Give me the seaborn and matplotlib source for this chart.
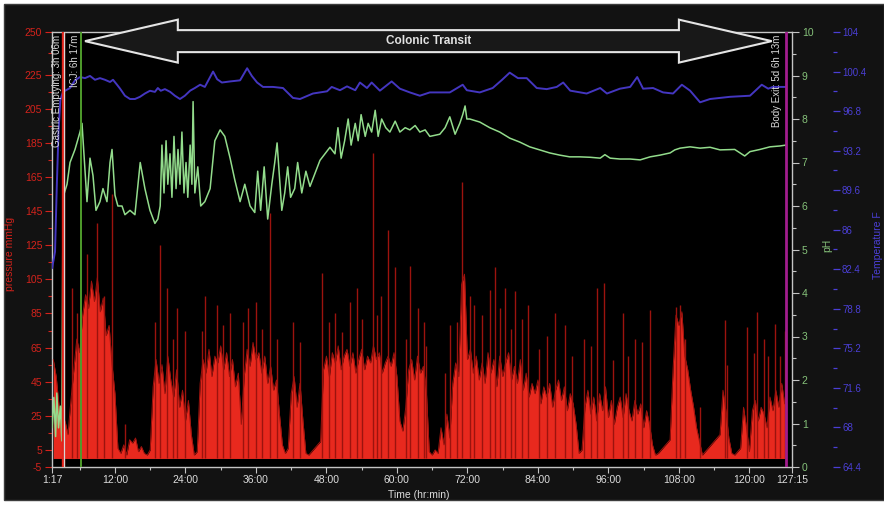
import numpy as np
import pandas as pd
import matplotlib
matplotlib.use("Agg")
import matplotlib.pyplot as plt
from matplotlib.patches import Polygon, Rectangle
import seaborn as sns

# ---------------------------------------------------------------- data
# Contraction pressure (mmHg), sampled every half hour starting at 1.5 h
pressure_start_h = 1.5
pressure_step_h = 0.5
pressure_mmhg = [
    58, 48, 30, 12, 22, 14, 34, 52, 70, 62,
    84, 96, 88, 104, 92, 106, 86, 94, 72, 78,
    55, 38, 6, 3, 8, 2, 11, 9, 12, 4,
    7, 3, 2, 5, 42, 58, 44, 55, 38, 60,
    46, 36, 52, 30, 40, 22, 34, 14, 2, 4,
    44, 58, 50, 64, 48, 60, 56, 66, 52, 62,
    48, 58, 42, 50, 20, 48, 64, 54, 68, 58,
    62, 50, 60, 44, 54, 40, 46, 26, 8, 3,
    6, 38, 48, 30, 44, 22, 3, 2, 4, 6,
    8, 10, 52, 60, 48, 62, 56, 66, 52, 60,
    64, 54, 62, 50, 58, 64, 52, 60, 56, 66,
    58, 62, 50, 56, 60, 54, 62, 48, 22, 16,
    30, 52, 58, 46, 60, 50, 54, 40, 4, 2,
    5, 3, 18, 8, 26, 12, 44, 56, 48, 102,
    108, 58, 64, 50, 60, 46, 56, 44, 62, 50,
    58, 42, 60, 48, 56, 62, 46, 54, 44, 58,
    40, 50, 36, 44, 38, 46, 32, 42, 36, 44,
    30, 40, 46, 34, 42, 28, 38, 32, 20, 3,
    5, 30, 40, 26, 36, 22, 38, 28, 42, 24,
    34, 20, 30, 36, 24, 38, 28, 22, 34, 26,
    32, 18, 28, 20, 8, 2, 3, 5, 7, 9,
    11, 52, 84, 78, 86, 60, 52, 40, 30, 18,
    10, 2, 4, 6, 8, 10, 12, 14, 40, 28,
    12, 3, 2, 4, 6, 30, 18, 4, 28, 34,
    22, 30, 26, 18, 36, 28, 40, 30, 44, 32,
]

# Individual high-amplitude contractions
spike_hours = [4.7, 5.6, 7.3, 8.95, 10.2, 11.5, 13.7, 18.9, 19.7, 20.9,
               21.8, 22.6, 23.9, 26.9, 27.3, 29.3, 30.4, 31.6, 33.8, 34.6,
               36.0, 37.0, 38.4, 39.6, 42.3, 43.5, 47.2, 48.5, 49.4, 50.6,
               52.0, 53.2, 54.0, 55.9, 56.6, 57.3, 58.5, 59.7, 61.6, 62.2,
               63.6, 64.6, 65.0, 68.1, 69.0, 70.2, 71.1, 72.4, 73.1, 74.4,
               75.8, 76.7, 77.6, 78.4, 79.4, 80.1, 81.3, 82.3, 84.2, 85.6,
               86.9, 88.6, 89.8, 91.8, 93.1, 94.0, 95.2, 96.8, 98.5, 99.4,
               100.5, 101.8, 103.1, 107.5, 108.2, 109.0, 111.6, 115.8, 116.2, 119.6,
               120.7, 121.3, 122.5, 123.2, 124.3, 125.2, 126.0]
spike_mmhg = [100, 85, 120, 138, 95, 155, 20, 80, 125, 100,
              70, 88, 75, 75, 95, 90, 78, 85, 80, 88,
              92, 76, 144, 70, 80, 68, 109, 80, 85, 74,
              92, 100, 82, 179, 84, 95, 134, 112, 70, 113,
              88, 80, 66, 50, 78, 80, 162, 95, 90, 84,
              99, 112, 88, 100, 76, 98, 82, 90, 64, 72,
              85, 78, 60, 70, 66, 100, 103, 58, 85, 60,
              70, 68, 87, 89, 90, 70, 30, 81, 55, 77,
              62, 86, 70, 60, 79, 60, 75]

# pH
ph_hours = [1.3, 1.6, 1.9, 2.1, 2.4, 2.7, 2.95,
            3.16, 3.84, 4.35, 5.2, 6.05, 6.39, 6.9, 7.24, 7.75, 8.26,
            8.77, 9.45, 9.96, 10.64, 11.16, 11.5, 12.0, 12.5, 13.2, 13.7,
            14.56, 15.4, 16.3, 17.1, 17.96, 18.8, 19.3,
            19.7, 20.0, 20.35, 20.7, 21.0, 21.37, 21.7, 22.05, 22.4, 22.73,
            23.07, 23.4, 23.75, 24.1, 24.4, 24.8, 25.1, 25.3, 25.6, 26.1,
            26.6, 27.3, 28.2, 29.0, 29.9, 30.7, 31.6, 32.4, 33.3, 34.1,
            35.0, 35.8, 36.3, 36.8, 37.4, 38.0, 38.7, 39.2, 39.6, 40.1,
            40.4, 40.9, 41.4, 41.9, 42.6, 43.1, 43.8, 44.5, 45.2, 46.9,
            48.6, 49.45, 49.96, 50.5, 51.1, 51.7, 52.2, 52.9, 53.4, 53.9,
            54.6, 55.1, 55.7, 56.3, 56.8, 57.4, 58.1, 58.8, 59.7, 60.5,
            61.4, 62.2, 63.1, 63.9, 64.8, 65.6, 67.3, 68.2, 69.0, 69.9,
            70.7, 71.2, 71.6, 71.9, 72.4, 74.1, 75.8, 77.5, 79.2, 80.9,
            82.6, 84.3, 86.0, 87.7, 89.4, 91.1, 92.9, 94.6, 95.4, 96.3,
            97.96, 99.7, 101.4, 103.1, 104.8, 106.5, 107.3, 108.2, 109.9, 111.6,
            113.3, 115.0, 117.5, 119.2, 120.1, 121.8, 123.5, 125.2, 126.2]
ph_values = [0.9, 1.6, 0.7, 1.7, 0.9, 1.4, 0.6,
             6.2, 6.5, 7.0, 7.3, 7.7, 7.9, 6.8, 6.1, 7.1, 6.7,
             5.9, 6.1, 6.4, 6.1, 7.0, 7.3, 6.25, 6.0, 6.0, 5.8,
             5.9, 5.8, 7.0, 6.4, 5.9, 5.6, 5.7,
             6.0, 7.4, 6.3, 7.5, 6.5, 7.2, 6.2, 7.6, 6.4, 7.3,
             6.5, 7.7, 6.3, 7.0, 6.2, 7.4, 6.5, 8.4, 6.3, 6.9,
             6.0, 6.1, 6.4, 7.5, 7.75, 7.6, 7.1, 6.6, 6.1, 6.5,
             6.0, 5.85, 6.8, 5.9, 6.9, 5.7, 6.5, 7.0, 7.45, 6.5,
             5.9, 6.3, 6.9, 6.2, 6.4, 7.0, 6.3, 6.8, 6.45, 7.05,
             7.35, 7.2, 7.8, 7.1, 7.5, 8.0, 7.4, 7.9, 7.5, 8.1,
             7.6, 7.9, 7.7, 8.2, 7.6, 8.0, 7.8, 7.7, 7.95, 7.7,
             7.8, 7.75, 7.85, 7.7, 7.75, 7.6, 7.65, 7.8, 8.05, 7.65,
             7.9, 8.1, 8.3, 8.0, 8.0, 7.93, 7.8, 7.7, 7.56, 7.47,
             7.36, 7.29, 7.22, 7.17, 7.13, 7.13, 7.12, 7.1, 7.18, 7.1,
             7.08, 7.08, 7.06, 7.13, 7.17, 7.22, 7.29, 7.33, 7.36, 7.33,
             7.35, 7.29, 7.3, 7.15, 7.25, 7.3, 7.36, 7.38, 7.4]

# Temperature (deg F)
temp_hours = [1.3, 1.8, 2.1, 2.4, 2.7, 3.16, 4.35, 5.2, 6.05, 6.9,
              7.75, 8.6, 9.45, 10.3, 11.16, 11.67, 12.35, 12.86, 13.7, 14.56,
              15.4, 16.26, 17.1, 17.96, 18.8, 19.3, 19.8, 20.5, 21.4, 22.2,
              23.07, 23.9, 24.8, 25.6, 26.5, 27.3, 28.7, 29.4, 30.2, 31.6,
              33.3, 34.5, 35.3, 36.2, 37.2, 38.9, 40.6, 42.3, 43.5, 45.7,
              48.1, 48.9, 50.3, 51.5, 52.9, 53.7, 54.9, 55.7, 57.1, 59.1,
              60.5, 62.2, 63.9, 65.6, 69.0, 71.2, 71.9, 74.1, 76.3, 77.9,
              79.2, 80.6, 82.1, 83.8, 85.5, 87.2, 88.3, 89.5, 92.3, 94.6,
              95.75, 97.96, 99.7, 100.9, 101.9, 103.6, 105.3, 107.0, 108.5, 109.9,
              111.6, 113.3, 116.7, 120.1, 122.1, 123.2, 124.0, 126.2]
temp_f = [82.5, 84.0, 90.0, 95.0, 97.8, 98.55, 98.9, 99.6, 99.9, 99.8,
          100.0, 99.65, 99.8, 99.65, 99.45, 99.65, 99.2, 98.85, 98.2, 97.9,
          97.9, 98.1, 98.4, 98.65, 98.55, 98.9, 98.65, 98.8, 98.55, 98.2,
          97.9, 98.2, 98.66, 98.9, 99.2, 99.0, 100.4, 99.7, 99.4, 99.5,
          99.6, 100.7, 100.0, 99.4, 99.0, 99.0, 98.9, 98.0, 97.9, 98.4,
          98.6, 99.0, 98.7, 99.05, 98.7, 99.4, 98.9, 99.4, 98.66, 99.5,
          98.84, 98.5, 98.2, 98.5, 98.5, 99.2, 98.7, 98.5, 98.9, 99.65,
          100.3, 99.8, 99.8, 98.9, 98.8, 99.0, 99.4, 98.66, 98.4, 98.9,
          98.4, 98.84, 99.0, 99.9, 98.84, 98.9, 98.5, 98.4, 99.2, 98.66,
          97.6, 97.9, 98.1, 98.2, 99.2, 98.84, 99.0, 99.0]

# Transit landmarks (hours)
GASTRIC_H = 3.1
ICJ_H = 6.28
EXIT_H = 126.22
X_START = 1 + 17 / 60
X_END = 127 + 15 / 60

x_ticks = [X_START, 12, 24, 36, 48, 60, 72, 84, 96, 108, 120, X_END]
x_tick_labels = ["1:17", "12:00", "24:00", "36:00", "48:00", "60:00", "72:00",
                 "84:00", "96:00", "108:00", "120:00", "127:15"]
x_minor = [6, 18, 30, 42, 54, 66, 78, 90, 102, 114]
pressure_ticks = [-5, 5, 25, 45, 65, 85, 105, 125, 145, 165, 185, 205, 225, 250]
pressure_minor = [15, 35, 55, 75, 95, 115, 135, 155, 175, 195, 215, 237.5]
ph_ticks = [0, 1, 2, 3, 4, 5, 6, 7, 8, 9, 10]
ph_minor = [0.5, 1.5, 2.5, 3.5, 4.5, 5.5, 6.5, 7.5, 8.5, 9.5]
temp_ticks = [64.4, 68, 71.6, 75.2, 78.8, 82.4, 86, 89.6, 93.2, 96.8, 100.4, 104]
temp_labels = ["64.4", "68", "71.6", "75.2", "78.8", "82.4", "86", "89.6",
               "93.2", "96.8", "100.4", "104"]
temp_minor = [66.2, 69.8, 73.4, 77.0, 80.6, 84.2, 87.8, 91.4, 95.0, 98.6, 102.2]

# ---------------------------------------------------------------- style
sns.set_theme(style="dark", rc={"axes.facecolor": "black",
                                "figure.facecolor": "white",
                                "axes.grid": False})
plt.rcParams["font.family"] = ["Liberation Sans Narrow", "Liberation Sans", "DejaVu Sans"]

RED = "#e8291e"
RED_DARK = "#9c130e"
RED_TXT = "#d4231c"
GREEN_LINE = "#93dc8c"
GREEN_TXT = "#86c27a"
BLUE = "#4436c0"
BLUE_TXT = "#4b3fd6"
GREY = "#c4c4c4"

pressure_hours = pressure_start_h + pressure_step_h * np.arange(len(pressure_mmhg))
pressure_df = pd.DataFrame({"hours": pressure_hours, "mmHg": pressure_mmhg})
ph_df = pd.DataFrame({"hours": ph_hours, "pH": ph_values})
temp_df = pd.DataFrame({"hours": temp_hours, "F": temp_f})

fig = plt.figure(figsize=(8.84, 5.07), dpi=100)
fig.patches.append(Rectangle((4 / 884, 7 / 507), 880 / 884, 496 / 507,
                             transform=fig.transFigure, facecolor="#121212",
                             edgecolor="#3c3c3c", lw=1.0, zorder=-10))

ax = fig.add_axes([52 / 884, 40 / 507, 740 / 884, 435 / 507])
ax.set_facecolor("black")
ax_ph = ax.twinx()
ax_t = ax.twinx()

# pressure: filled trace plus isolated peaks
ax.fill_between(pressure_df["hours"], 0, pressure_df["mmHg"], color=RED, lw=0, zorder=2)
sns.lineplot(data=pressure_df, x="hours", y="mmHg", ax=ax, color=RED_DARK,
             lw=0.7, estimator=None, sort=False, legend=False, zorder=3)
ax.vlines(spike_hours, 0, spike_mmhg, color=RED_DARK, lw=1.0, zorder=3)

# pH and temperature traces
sns.lineplot(data=ph_df, x="hours", y="pH", ax=ax_ph, color=GREEN_LINE,
             lw=1.1, estimator=None, sort=False, legend=False)
sns.lineplot(data=temp_df, x="hours", y="F", ax=ax_t, color=BLUE,
             lw=1.4, estimator=None, sort=False, legend=False)

# axis limits
ax.set_xlim(X_START, X_END)
ax.set_ylim(-5, 250)
ax_ph.set_ylim(0, 10)
ax_t.set_ylim(64.4, 104)

# x axis
ax.set_xticks(x_ticks)
ax.set_xticklabels(x_tick_labels)
ax.set_xticks(x_minor, minor=True)
ax.tick_params(axis="x", which="both", direction="out", colors=GREY,
               labelcolor="#dcdcdc", labelsize=7.5, bottom=True, pad=2)
ax.tick_params(axis="x", which="major", length=4, width=0.8)
ax.tick_params(axis="x", which="minor", length=2.5, width=0.8)
ax.set_xlabel("Time (hr:min)", color="#dcdcdc", fontsize=7.5)
ax.xaxis.set_label_coords(0.495, -0.052)

# pressure axis
ax.set_yticks(pressure_ticks)
ax.set_yticklabels([str(v) for v in pressure_ticks])
ax.set_yticks(pressure_minor, minor=True)
ax.tick_params(axis="y", which="both", direction="out", colors=RED_TXT,
               labelsize=7.5, left=True, pad=2)
ax.tick_params(axis="y", which="major", length=5, width=0.8)
ax.tick_params(axis="y", which="minor", length=3, width=0.8)
ax.set_ylabel("pressure mmHg", color=RED_TXT, fontsize=7.5)
ax.yaxis.set_label_coords(-0.05, 0.49)

# pH axis
ax_ph.set_yticks(ph_ticks)
ax_ph.set_yticklabels([str(v) for v in ph_ticks])
ax_ph.set_yticks(ph_minor, minor=True)
ax_ph.tick_params(axis="y", which="both", direction="out", colors=GREY,
                  labelcolor=GREEN_TXT, labelsize=7.5, right=True, pad=2)
ax_ph.tick_params(axis="y", which="major", length=5, width=0.8)
ax_ph.tick_params(axis="y", which="minor", length=3, width=0.8)
ax_ph.set_ylabel("pH", color=GREEN_TXT, fontsize=7.5, rotation=90)
ax_ph.yaxis.set_label_coords(1.0405, 0.51)

# temperature axis, offset to the right with no spine line
ax_t.spines["right"].set_position(("axes", 1.0554))
ax_t.spines["right"].set_visible(False)
ax_t.set_yticks(temp_ticks)
ax_t.set_yticklabels(temp_labels)
ax_t.set_yticks(temp_minor, minor=True)
ax_t.tick_params(axis="y", which="both", direction="out", colors=BLUE_TXT,
                 labelsize=7, right=True, pad=1.5)
ax_t.tick_params(axis="y", which="major", length=5, width=0.9)
ax_t.tick_params(axis="y", which="minor", length=3, width=0.9)
ax_t.set_ylabel("Temperature F", color=BLUE_TXT, fontsize=7.5, rotation=90)
ax_t.yaxis.set_label_coords(1.1095, 0.51)

for a in (ax, ax_ph, ax_t):
    for side in ("left", "top", "bottom"):
        a.spines[side].set_visible(a is ax)
for side in ("left", "top", "bottom"):
    ax.spines[side].set_color(GREY)
    ax.spines[side].set_linewidth(1.0)
ax_ph.spines["right"].set_visible(True)
ax_ph.spines["right"].set_color(GREY)
ax_ph.spines["right"].set_linewidth(1.0)
ax.spines["right"].set_visible(False)

# transit landmarks
xt = ax_t.get_xaxis_transform()
ax_t.axvline(GASTRIC_H, color="#e3241b", lw=2.4, zorder=5)
ax_t.axvline(GASTRIC_H + 0.25, color="#d6d6d6", lw=0.9, zorder=5)
ax_t.axvline(ICJ_H, color="#4f9d2c", lw=1.4, zorder=5)
ax_t.axvline(EXIT_H, color="#a11d8d", lw=2.0, zorder=5)
label_kw = dict(transform=xt, rotation=90, ha="center", va="top",
                color="#dadada", fontsize=7, zorder=6)
ax_t.text(GASTRIC_H - 0.95, 0.994, "Gastric Emptying: 3h 06m", **label_kw)
ax_t.text(ICJ_H - 1.1, 0.994, "ICJ: 6h 17m", **label_kw)
ax_t.text(EXIT_H - 1.5, 0.994, "Body Exit: 5d 6h 13m", **label_kw)

# colonic transit double arrow
ARROW_LEFT_H, ARROW_RIGHT_H = 6.9, 123.8
HEAD_LEN_H = 15.8
ARROW_Y, SHAFT_HALF, HEAD_HALF = 0.979, 0.0253, 0.0494
arrow_pts = [
    (ARROW_LEFT_H, ARROW_Y),
    (ARROW_LEFT_H + HEAD_LEN_H, ARROW_Y + HEAD_HALF),
    (ARROW_LEFT_H + HEAD_LEN_H, ARROW_Y + SHAFT_HALF),
    (ARROW_RIGHT_H - HEAD_LEN_H, ARROW_Y + SHAFT_HALF),
    (ARROW_RIGHT_H - HEAD_LEN_H, ARROW_Y + HEAD_HALF),
    (ARROW_RIGHT_H, ARROW_Y),
    (ARROW_RIGHT_H - HEAD_LEN_H, ARROW_Y - HEAD_HALF),
    (ARROW_RIGHT_H - HEAD_LEN_H, ARROW_Y - SHAFT_HALF),
    (ARROW_LEFT_H + HEAD_LEN_H, ARROW_Y - SHAFT_HALF),
    (ARROW_LEFT_H + HEAD_LEN_H, ARROW_Y - HEAD_HALF),
]
ax_t.add_patch(Polygon(arrow_pts, closed=True, transform=xt, clip_on=False,
                       facecolor="#181818", edgecolor="#e4e4e4", lw=1.5, zorder=7))
ax_t.text((ARROW_LEFT_H + ARROW_RIGHT_H) / 2, ARROW_Y, "Colonic Transit",
          transform=xt, ha="center", va="center", color="#e2e2e2",
          fontsize=8.5, fontweight="bold", zorder=8)

fig.savefig("out.png", dpi=100, facecolor="white")
